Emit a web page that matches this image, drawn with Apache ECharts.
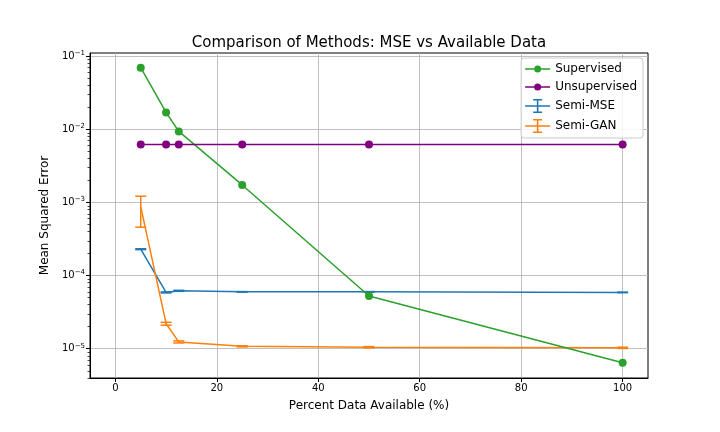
<!DOCTYPE html>
<html>
<head>
<meta charset="utf-8">
<title>Comparison of Methods</title>
<script src="https://cdn.jsdelivr.net/npm/echarts@6/dist/echarts.min.js"></script>
<style>
	html, body { margin: 0; padding: 0; background: #fff; }
	#main { width: 720px; height: 432px; }
</style>
</head>
<body>
<div id="main"></div>
<script>
// 数据部分
const percent = [5, 10, 12.5, 25, 50, 100];
const supervised = [0.070, 0.0171, 0.0094, 0.00174, 5.27e-5, 6.43e-6];
const unsupervised = [0.00624, 0.00624, 0.00624, 0.00624, 0.00624, 0.00624];
const semiMse = [2.3e-4, 5.9e-5, 6.2e-5, 6.0e-5, 6.0e-5, 5.9e-5];
const semiMseLow = [2.27e-4, 5.8e-5, 6.1e-5, 5.95e-5, 5.95e-5, 5.85e-5];
const semiMseHigh = [2.33e-4, 6.0e-5, 6.3e-5, 6.05e-5, 6.05e-5, 5.95e-5];
const semiGan = [8.8e-4, 2.2e-5, 1.24e-5, 1.08e-5, 1.05e-5, 1.03e-5];
const semiGanLow = [4.6e-4, 2.1e-5, 1.2e-5, 1.06e-5, 1.03e-5, 1.01e-5];
const semiGanHigh = [1.22e-3, 2.3e-5, 1.28e-5, 1.1e-5, 1.07e-5, 1.05e-5];
const xTicks = [0, 20, 40, 60, 80, 100];
const yTicks = [1e-5, 1e-4, 1e-3, 1e-2, 1e-1];

// 次刻度 (2..9 x 10^n)
const yMinor = [];
for (let e = -6; e <= -1; e++) {
	for (let m = 2; m <= 9; m++) {
		yMinor.push(m * Math.pow(10, e));
	}
}

const FONT = 'DejaVu Sans';
const ERRBAR_ICON = 'path://M0,6.2 L25,6.2 L25,7.8 L0,7.8 Z M11.7,0 L13.3,0 L13.3,14 L11.7,14 Z M8,0 L17,0 L17,1.4 L8,1.4 Z M8,12.6 L17,12.6 L17,14 L8,14 Z';
const DOT_ICON = 'path://M0,6.25 L25,6.25 L25,7.75 L0,7.75 Z M16,7 A3.5,3.5 0 1,1 9,7 A3.5,3.5 0 1,1 16,7 Z';

function pairs(ys) {
	return percent.map(function (x, i) { return [x, ys[i]]; });
}

function errData(low, high) {
	return percent.map(function (x, i) { return [x, low[i], high[i]]; });
}

// 误差棒
function errorBars(name, color, low, high) {
	return {
		name: name,
		type: 'custom',
		data: errData(low, high),
		encode: { x: 0, y: [1, 2] },
		z: 3,
		renderItem: function (params, api) {
			const lo = api.coord([api.value(0), api.value(1)]);
			const hi = api.coord([api.value(0), api.value(2)]);
			const w = 5.5;
			const st = { stroke: color, lineWidth: 1.5 };
			return {
				type: 'group',
				children: [
					{ type: 'line', shape: { x1: lo[0], y1: lo[1], x2: hi[0], y2: hi[1] }, style: st },
					{ type: 'line', shape: { x1: lo[0] - w, y1: lo[1], x2: lo[0] + w, y2: lo[1] }, style: st },
					{ type: 'line', shape: { x1: hi[0] - w, y1: hi[1], x2: hi[0] + w, y2: hi[1] }, style: st }
				]
			};
		}
	};
}

const chart = echarts.init(document.getElementById('main'), null, { renderer: 'canvas' });

const option = {
	animation: false,
	backgroundColor: '#fff',
	textStyle: { fontFamily: FONT },
	title: {
		text: 'Comparison of Methods: MSE vs Available Data',
		left: 364,
		textAlign: 'center',
		top: 31,
		textStyle: { fontFamily: FONT, fontSize: 15, fontWeight: 'normal', color: '#000' }
	},
	legend: {
		orient: 'vertical',
		right: 77,
		top: 58,
		backgroundColor: 'rgba(255,255,255,0.85)',
		borderColor: '#ccc',
		borderWidth: 1,
		borderRadius: 3,
		padding: [5, 6, 5, 4],
		itemGap: 6,
		itemWidth: 25,
		itemHeight: 14,
		textStyle: { fontFamily: FONT, fontSize: 12, color: '#000' },
		data: [
			{ name: 'Supervised', icon: DOT_ICON, itemStyle: { color: '#2ca02c' } },
			{ name: 'Unsupervised', icon: DOT_ICON, itemStyle: { color: '#800080' } },
			{ name: 'Semi-MSE', icon: ERRBAR_ICON, itemStyle: { color: '#1f77b4' } },
			{ name: 'Semi-GAN', icon: ERRBAR_ICON, itemStyle: { color: '#ff7f0e' } }
		]
	},
	grid: {
		left: 90,
		right: 72,
		top: 53,
		bottom: 54,
		show: true,
		borderColor: '#000',
		borderWidth: 1,
		containLabel: false
	},
	xAxis: {
		type: 'value',
		min: -5,
		max: 105,
		name: 'Percent Data Available (%)',
		nameLocation: 'middle',
		nameGap: 22,
		nameTextStyle: { fontFamily: FONT, fontSize: 12, color: '#000' },
		axisLine: { show: true, onZero: false, lineStyle: { color: '#000' } },
		axisTick: { show: true, length: 4, customValues: xTicks, lineStyle: { color: '#000' } },
		axisLabel: { customValues: xTicks, fontFamily: FONT, fontSize: 10, color: '#000', margin: 5 },
		splitLine: { show: true, lineStyle: { color: '#b0b0b0', width: 0.8 } }
	},
	yAxis: [
		{
			type: 'log',
			logBase: 10,
			min: 3.98e-6,
			max: 0.111,
			name: 'Mean Squared Error',
			nameLocation: 'middle',
			nameGap: 38,
			nameTextStyle: { fontFamily: FONT, fontSize: 12, color: '#000' },
			axisLine: { show: true, onZero: false, lineStyle: { color: '#000' } },
			axisTick: { show: true, length: 4, customValues: yTicks, lineStyle: { color: '#000' } },
			axisLabel: {
				customValues: yTicks,
				fontFamily: FONT,
				fontSize: 10,
				color: '#000',
				margin: 5,
				formatter: function (v) {
					const e = Math.round(Math.log10(v));
					return '10{sup|\u2212' + Math.abs(e) + '}';
				},
				rich: {
					sup: { fontSize: 7, fontFamily: FONT, color: '#000', padding: [0, 0, 6, 0] }
				}
			},
			splitLine: { show: true, lineStyle: { color: '#b0b0b0', width: 0.8 } }
		},
		{
			type: 'log',
			logBase: 10,
			min: 3.98e-6,
			max: 0.111,
			position: 'left',
			axisLine: { show: false, onZero: false },
			axisTick: { show: true, length: 2.5, customValues: yMinor, lineStyle: { color: '#000', width: 0.7 } },
			axisLabel: { show: false },
			splitLine: { show: false }
		}
	],
	series: [
		{
			name: 'Supervised',
			type: 'line',
			data: pairs(supervised),
			color: '#2ca02c',
			symbol: 'circle',
			symbolSize: 8,
			lineStyle: { width: 1.5 },
			z: 4
		},
		{
			name: 'Unsupervised',
			type: 'line',
			data: pairs(unsupervised),
			color: '#800080',
			symbol: 'circle',
			symbolSize: 8,
			lineStyle: { width: 1.5 },
			z: 4
		},
		{
			name: 'Semi-MSE',
			type: 'line',
			data: pairs(semiMse),
			color: '#1f77b4',
			symbol: 'none',
			lineStyle: { width: 1.5 },
			z: 3
		},
		errorBars('Semi-MSE', '#1f77b4', semiMseLow, semiMseHigh),
		{
			name: 'Semi-GAN',
			type: 'line',
			data: pairs(semiGan),
			color: '#ff7f0e',
			symbol: 'none',
			lineStyle: { width: 1.5 },
			z: 3
		},
		errorBars('Semi-GAN', '#ff7f0e', semiGanLow, semiGanHigh)
	]
};

chart.setOption(option);
window.onresize = chart.resize;
</script>
</body>
</html>
